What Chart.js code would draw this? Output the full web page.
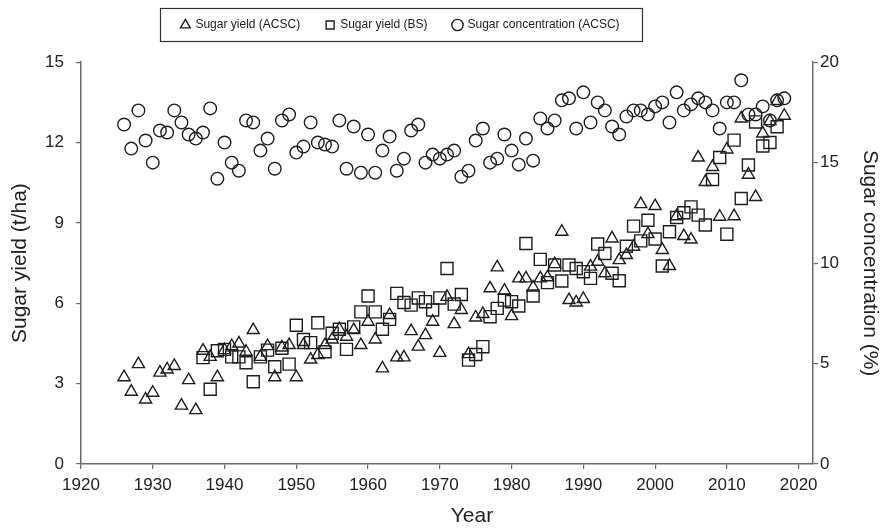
<!DOCTYPE html>
<html>
<head>
<meta charset="utf-8">
<script src="https://cdn.jsdelivr.net/npm/chart.js@4.4.1/dist/chart.umd.min.js"></script>
<style>
  html, body { margin: 0; padding: 0; background: #fff; }
  #wrap { width: 889px; height: 529px; }
</style>
</head>
<body>
<div id="wrap"><canvas id="sugarChart" width="889" height="529"></canvas></div>
<script>
// ACSC series: 1926-2018
const acscYears = [
  1926, 1927, 1928, 1929,
  1930, 1931, 1932, 1933, 1934, 1935, 1936, 1937, 1938, 1939,
  1940, 1941, 1942, 1943, 1944, 1945, 1946, 1947, 1948, 1949,
  1950, 1951, 1952, 1953, 1954, 1955, 1956, 1957, 1958, 1959,
  1960, 1961, 1962, 1963, 1964, 1965, 1966, 1967, 1968, 1969,
  1970, 1971, 1972, 1973, 1974, 1975, 1976, 1977, 1978, 1979,
  1980, 1981, 1982, 1983, 1984, 1985, 1986, 1987, 1988, 1989,
  1990, 1991, 1992, 1993, 1994, 1995, 1996, 1997, 1998, 1999,
  2000, 2001, 2002, 2003, 2004, 2005, 2006, 2007, 2008, 2009,
  2010, 2011, 2012, 2013, 2014, 2015, 2016, 2017, 2018
];
const acscYield = [
  3.24, 2.7, 3.73, 2.41,
  2.66, 3.41, 3.53, 3.66, 2.18, 3.13, 2.01, 4.23, 4.0, 3.24,
  4.25, 4.4, 4.5, 4.19, 5.0, 4.0, 4.4, 3.24, 4.35, 4.44,
  3.24, 4.44, 3.9, 4.07, 4.44, 4.65, 5.03, 4.75, 5.0, 4.44,
  5.31, 4.65, 3.57, 5.56, 3.98, 3.98, 4.96, 4.38, 4.81, 5.31,
  4.15, 6.24, 5.22, 5.75, 4.1, 5.47, 5.6, 6.56, 7.34, 6.47,
  5.52, 6.93, 6.93, 6.59, 6.93, 6.97, 7.46, 8.67, 6.12, 6.03,
  6.16, 7.37, 7.55, 7.12, 8.42, 7.61, 7.8, 8.11, 9.7, 8.58,
  9.63, 7.99, 7.39, 9.25, 8.51, 8.38, 11.44, 10.53, 11.09, 9.23,
  11.74, 9.25, 12.9, 10.8, 9.97, 12.34, 12.8, 13.55, 13.0
];
const acscConc = [
  16.9, 15.7, 17.6, 16.1,
  15.0, 16.6, 16.5, 17.6, 17.0, 16.4, 16.2, 16.5, 17.7, 14.2,
  16.0, 15.0, 14.6, 17.1, 17.0, 15.6, 16.2, 14.7, 17.1, 17.4,
  15.5, 15.8, 17.0, 16.0, 15.9, 15.8, 17.1, 14.7, 16.8, 14.5,
  16.4, 14.5, 15.6, 16.3, 14.6, 15.2, 16.6, 16.9, 15.0, 15.4,
  15.2, 15.4, 15.6, 14.3, 14.6, 16.1, 16.7, 15.0, 15.2, 16.4,
  15.6, 14.9, 16.2, 15.1, 17.2, 16.7, 17.1, 18.1, 18.2, 16.7,
  18.5, 17.0, 18.0, 17.6, 16.8, 16.4, 17.3, 17.6, 17.6, 17.4,
  17.8, 18.0, 17.0, 18.5, 17.6, 17.9, 18.2, 18.0, 17.6, 16.7,
  18.0, 18.0, 19.1, 17.4, 17.4, 17.8, 17.1, 18.1, 18.2
];

// BS series: 1937-2017
const bsYears = [
  1937, 1938, 1939,
  1940, 1941, 1942, 1943, 1944, 1945, 1946, 1947, 1948, 1949,
  1950, 1951, 1952, 1953, 1954, 1955, 1956, 1957, 1958, 1959,
  1960, 1961, 1962, 1963, 1964, 1965, 1966, 1967, 1968, 1969,
  1970, 1971, 1972, 1973, 1974, 1975, 1976, 1977, 1978, 1979,
  1980, 1981, 1982, 1983, 1984, 1985, 1986, 1987, 1988, 1989,
  1990, 1991, 1992, 1993, 1994, 1995, 1996, 1997, 1998, 1999,
  2000, 2001, 2002, 2003, 2004, 2005, 2006, 2007, 2008, 2009,
  2010, 2011, 2012, 2013, 2014, 2015, 2016, 2017
];
const bsYield = [
  3.97, 2.79, 4.23,
  4.28, 4.0, 4.0, 3.78, 3.07, 4.0, 4.25, 3.63, 4.32, 3.73,
  5.18, 4.65, 4.53, 5.27, 4.19, 4.88, 5.03, 4.28, 5.12, 5.68,
  6.27, 5.68, 5.03, 5.4, 6.37, 6.03, 5.93, 6.2, 6.06, 5.75,
  6.2, 7.3, 5.97, 6.33, 3.88, 4.09, 4.38, 5.5, 5.81, 6.12,
  6.06, 5.9, 8.23, 6.27, 7.64, 6.77, 7.43, 6.83, 7.43, 7.3,
  7.18, 6.93, 8.21, 7.86, 7.12, 6.84, 8.13, 8.88, 8.33, 9.1,
  8.4, 7.39, 8.67, 9.2, 9.38, 9.6, 9.29, 8.92, 10.62, 11.44,
  8.58, 12.09, 9.91, 11.16, 12.77, 11.87, 12.0, 12.59
];

// axis ticks
const yearTicks = [1920, 1930, 1940, 1950, 1960, 1970, 1980, 1990, 2000, 2010, 2020];
const yieldTicks = [0, 3, 6, 9, 12, 15];
const concTicks = [0, 5, 10, 15, 20];

const ink = '#1e1e1e';
const axisGrey = '#6a6a6a';
const fontFam = '"Liberation Sans", Arial, sans-serif';
const legendShift = -44;
const xTitle = 'Year';

function toPoints(xs, ys) {
  return xs.map((x, i) => ({ x: x, y: ys[i] }));
}

// move the legend a little left and put a thin frame round it, like the original
const legendFrame = {
  id: 'legendFrame',
  afterLayout(chart) {
    const lg = chart.legend;
    if (!lg) return;
    lg.left += legendShift;
    lg.right += legendShift;
    if (typeof lg.adjustHitBoxes === 'function') lg.adjustHitBoxes();
  },
  afterDraw(chart) {
    const ctx = chart.ctx;
    const boxes = chart.legend && chart.legend.legendHitBoxes;
    if (boxes && boxes.length) {
      const first = boxes[0];
      const last = boxes[boxes.length - 1];
      const x0 = Math.round(first.left - 21) + 0.5;
      const x1 = Math.round(last.left + last.width + 22) + 0.5;
      ctx.save();
      ctx.strokeStyle = '#333';
      ctx.lineWidth = 1.2;
      ctx.strokeRect(x0, 8.5, x1 - x0, 33);
      ctx.restore();
    }
    // x title sits a bit right of the axis centre in the original
    const area = chart.chartArea;
    ctx.save();
    ctx.fillStyle = '#222';
    ctx.font = '21px ' + fontFam;
    ctx.textAlign = 'center';
    ctx.textBaseline = 'middle';
    ctx.fillText(xTitle, (area.left + area.right) / 2 + 25, 516);
    ctx.restore();
  }
};

window.addEventListener('DOMContentLoaded', () => {
  const ctx = document.getElementById('sugarChart').getContext('2d');

  new Chart(ctx, {
    type: 'scatter',
    data: {
      datasets: [
        {
          label: 'Sugar yield (ACSC)',
          data: toPoints(acscYears, acscYield),
          yAxisID: 'y',
          pointStyle: 'triangle',
          pointRadius: 7,
          borderWidth: 1.4,
          borderColor: ink,
          backgroundColor: 'rgba(255,255,255,0)'
        },
        {
          label: 'Sugar yield (BS)',
          data: toPoints(bsYears, bsYield),
          yAxisID: 'y',
          pointStyle: 'rect',
          pointRadius: 8.5,
          borderWidth: 1.4,
          borderColor: ink,
          backgroundColor: 'rgba(255,255,255,0)'
        },
        {
          label: 'Sugar concentration (ACSC)',
          data: toPoints(acscYears, acscConc),
          yAxisID: 'y2',
          pointStyle: 'circle',
          pointRadius: 6.3,
          borderWidth: 1.4,
          borderColor: ink,
          backgroundColor: 'rgba(255,255,255,0)'
        }
      ]
    },
    options: {
      responsive: false,
      animation: false,
      layout: { padding: { top: -7, left: 0, right: 0, bottom: 0 } },
      plugins: {
        legend: {
          display: true,
          position: 'top',
          weight: 2500,
          labels: {
            usePointStyle: true,
            boxWidth: 8,
            boxHeight: 8,
            padding: 26,
            color: '#222',
            font: { family: fontFam, size: 12 }
          }
        },
        subtitle: {
          display: true,
          text: ' ',
          font: { size: 1 },
          padding: { top: 0, bottom: 20 }
        },
        tooltip: { enabled: false }
      },
      scales: {
        x: {
          type: 'linear',
          min: 1920,
          max: 2022,
          afterBuildTicks: s => { s.ticks = yearTicks.map(v => ({ value: v })); },
          afterFit: s => { s.height = 65; },
          ticks: {
            color: '#222',
            font: { family: fontFam, size: 17 },
            padding: 6,
            maxRotation: 0,
            autoSkip: false,
            callback: v => String(v)
          },
          grid: { display: true, drawOnChartArea: false, drawTicks: true, tickLength: 5, color: axisGrey, lineWidth: 1.2 },
          border: { display: true, color: axisGrey, width: 1.5 },
          title: { display: false }
        },
        y: {
          type: 'linear',
          position: 'left',
          min: 0,
          max: 15,
          afterBuildTicks: s => { s.ticks = yieldTicks.map(v => ({ value: v })); },
          afterFit: s => { s.width = 81; },
          ticks: { color: '#222', font: { family: fontFam, size: 17 }, padding: 12 },
          grid: { display: true, drawOnChartArea: false, drawTicks: true, tickLength: 5, color: axisGrey, lineWidth: 1.2 },
          border: { display: true, color: axisGrey, width: 1.5 },
          title: { display: true, text: 'Sugar yield (t/ha)', color: '#222', font: { family: fontFam, size: 21 }, padding: { top: 8, bottom: 0 } }
        },
        y2: {
          type: 'linear',
          position: 'right',
          min: 0,
          max: 20,
          afterBuildTicks: s => { s.ticks = concTicks.map(v => ({ value: v })); },
          afterFit: s => { s.width = 76; },
          ticks: { color: '#222', font: { family: fontFam, size: 17 }, padding: 2 },
          grid: { display: true, drawOnChartArea: false, drawTicks: true, tickLength: 5, color: axisGrey, lineWidth: 1.2 },
          border: { display: true, color: axisGrey, width: 1.5 },
          title: { display: true, text: 'Sugar concentration (%)', color: '#222', font: { family: fontFam, size: 21 }, padding: { top: 7, bottom: 0 } }
        }
      }
    },
    plugins: [legendFrame]
  });
});
</script>
</body>
</html>
